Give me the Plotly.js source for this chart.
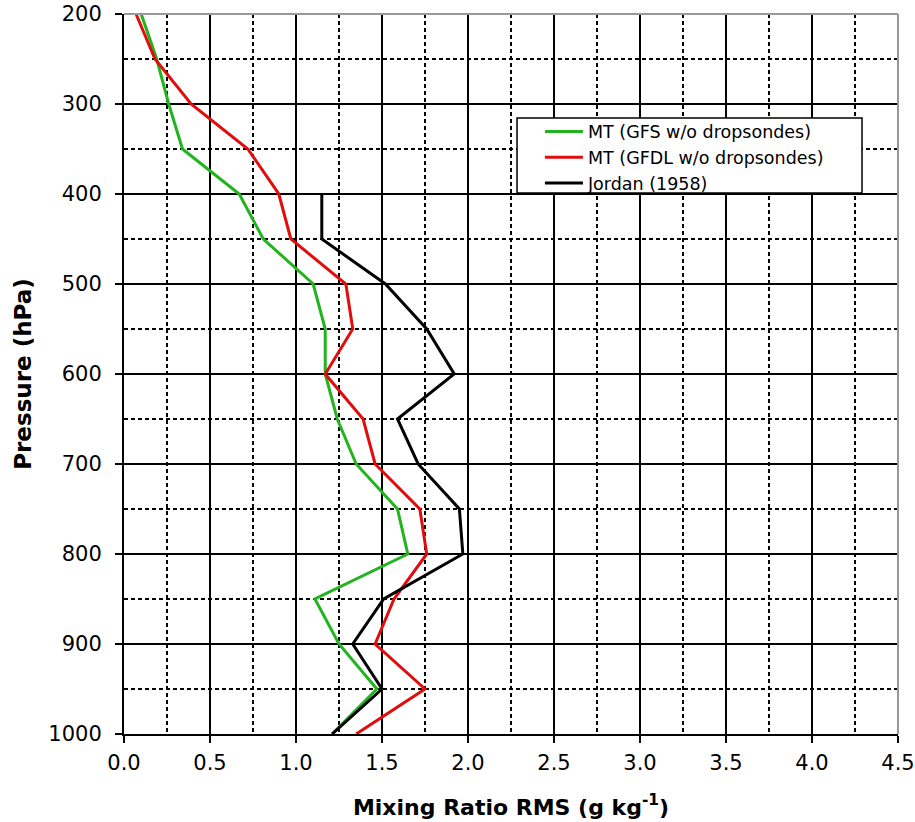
<!DOCTYPE html>
<html>
<head>
<meta charset="utf-8">
<script src="https://cdn.plot.ly/plotly-3.0.1.min.js"></script>
<style>html,body{margin:0;padding:0;background:#fff;}#chart{width:915px;height:822px;}</style>
</head>
<body>
<div id="chart"></div>
<script>
const pressure = [200, 250, 300, 350, 400, 450, 500, 550, 600, 650, 700, 750, 800, 850, 900, 950, 1000];
const gfsRMS  = [0.10, 0.19, 0.26, 0.34, 0.67, 0.81, 1.10, 1.17, 1.17, 1.24, 1.35, 1.59, 1.65, 1.11, 1.25, 1.47, 1.21];
const gfdlRMS = [0.07, 0.18, 0.39, 0.72, 0.90, 0.97, 1.29, 1.33, 1.17, 1.39, 1.46, 1.72, 1.76, 1.57, 1.46, 1.75, 1.35];
const jordanP   = [400, 450, 500, 550, 600, 650, 700, 750, 800, 850, 900, 950, 1000];
const jordanRMS = [1.15, 1.15, 1.52, 1.76, 1.92, 1.59, 1.71, 1.95, 1.97, 1.51, 1.33, 1.50, 1.21];
const seriesNames = ['MT (GFS w/o dropsondes)', 'MT (GFDL w/o dropsondes)', 'Jordan (1958)'];

const font = 'DejaVu Sans, Verdana, sans-serif';
const traces = [
  {x: [], y: [], xaxis: 'x2', yaxis: 'y2', showlegend: false, hoverinfo: 'skip', mode: 'lines'},
  {x: gfsRMS, y: pressure, name: seriesNames[0], mode: 'lines', line: {color: '#22b41e', width: 3}},
  {x: gfdlRMS, y: pressure, name: seriesNames[1], mode: 'lines', line: {color: '#e00d0d', width: 3}},
  {x: jordanRMS, y: jordanP, name: seriesNames[2], mode: 'lines', line: {color: '#000000', width: 3}}
];

const dashGrid = {showgrid: true, gridcolor: '#000', gridwidth: 1.5, griddash: '4px,3px',
  showticklabels: false, ticks: '', showline: false, zeroline: false};

const layout = {
  width: 915, height: 822,
  margin: {l: 124, r: 17, t: 14, b: 88},
  paper_bgcolor: '#fff', plot_bgcolor: '#fff',
  font: {family: font, color: '#000'},
  showlegend: true,
  legend: {
    x: 0.5374, y: 0.8615, xanchor: 'left', yanchor: 'top',
    bgcolor: 'rgba(0,0,0,0)', borderwidth: 0,
    itemwidth: 38,
    font: {family: font, size: 17.5, color: '#000'},
    tracegroupgap: 0
  },
  xaxis: {
    range: [0, 4.5], dtick: 0.5, tick0: 0, tickformat: '.1f',
    ticks: 'outside', ticklen: 7, tickwidth: 2, tickcolor: '#000',
    ticklabelstandoff: 2,
    showline: true, linecolor: '#000', linewidth: 2,
    showgrid: true, gridcolor: '#000', gridwidth: 2,
    zeroline: false,
    tickfont: {family: font, size: 21, color: '#000'},
    title: {text: '<b>Mixing Ratio RMS (g kg<sup>-1</sup>)</b>', font: {family: font, size: 22, color: '#000'}, standoff: 25},
    automargin: false
  },
  xaxis2: Object.assign({overlaying: 'x', anchor: 'y', range: [0, 4.5], tick0: 0.25, dtick: 0.5, automargin: false}, dashGrid),
  yaxis: {
    range: [1000, 200], dtick: 100, tick0: 200,
    ticks: 'outside', ticklen: 7, tickwidth: 2, tickcolor: '#000',
    ticklabelstandoff: 9,
    showline: true, linecolor: '#000', linewidth: 2,
    showgrid: true, gridcolor: '#000', gridwidth: 2,
    zeroline: false,
    tickfont: {family: font, size: 21, color: '#000'},
    title: {text: '<b>Pressure (hPa)</b>', font: {family: font, size: 23, color: '#000'}, standoff: 10},
    automargin: false
  },
  yaxis2: Object.assign({overlaying: 'y', anchor: 'x', range: [1000, 200], tick0: 250, dtick: 100, automargin: false}, dashGrid),
  shapes: [
    {type: 'line', xref: 'paper', yref: 'paper', x0: 0, x1: 1, y0: 1, y1: 1, line: {color: '#999', width: 2}},
    {type: 'line', xref: 'paper', yref: 'paper', x0: 1, x1: 1, y0: 0, y1: 1, line: {color: '#999', width: 2}},
    {type: 'rect', xref: 'paper', yref: 'paper', x0: 0.5078, x1: 0.9535, y0: 0.7514, y1: 0.8556,
     fillcolor: '#fff', line: {color: '#000', width: 1.5}, layer: 'above'}
  ]
};

Plotly.newPlot('chart', traces, layout, {displayModeBar: false, staticPlot: true});
</script>
</body>
</html>
